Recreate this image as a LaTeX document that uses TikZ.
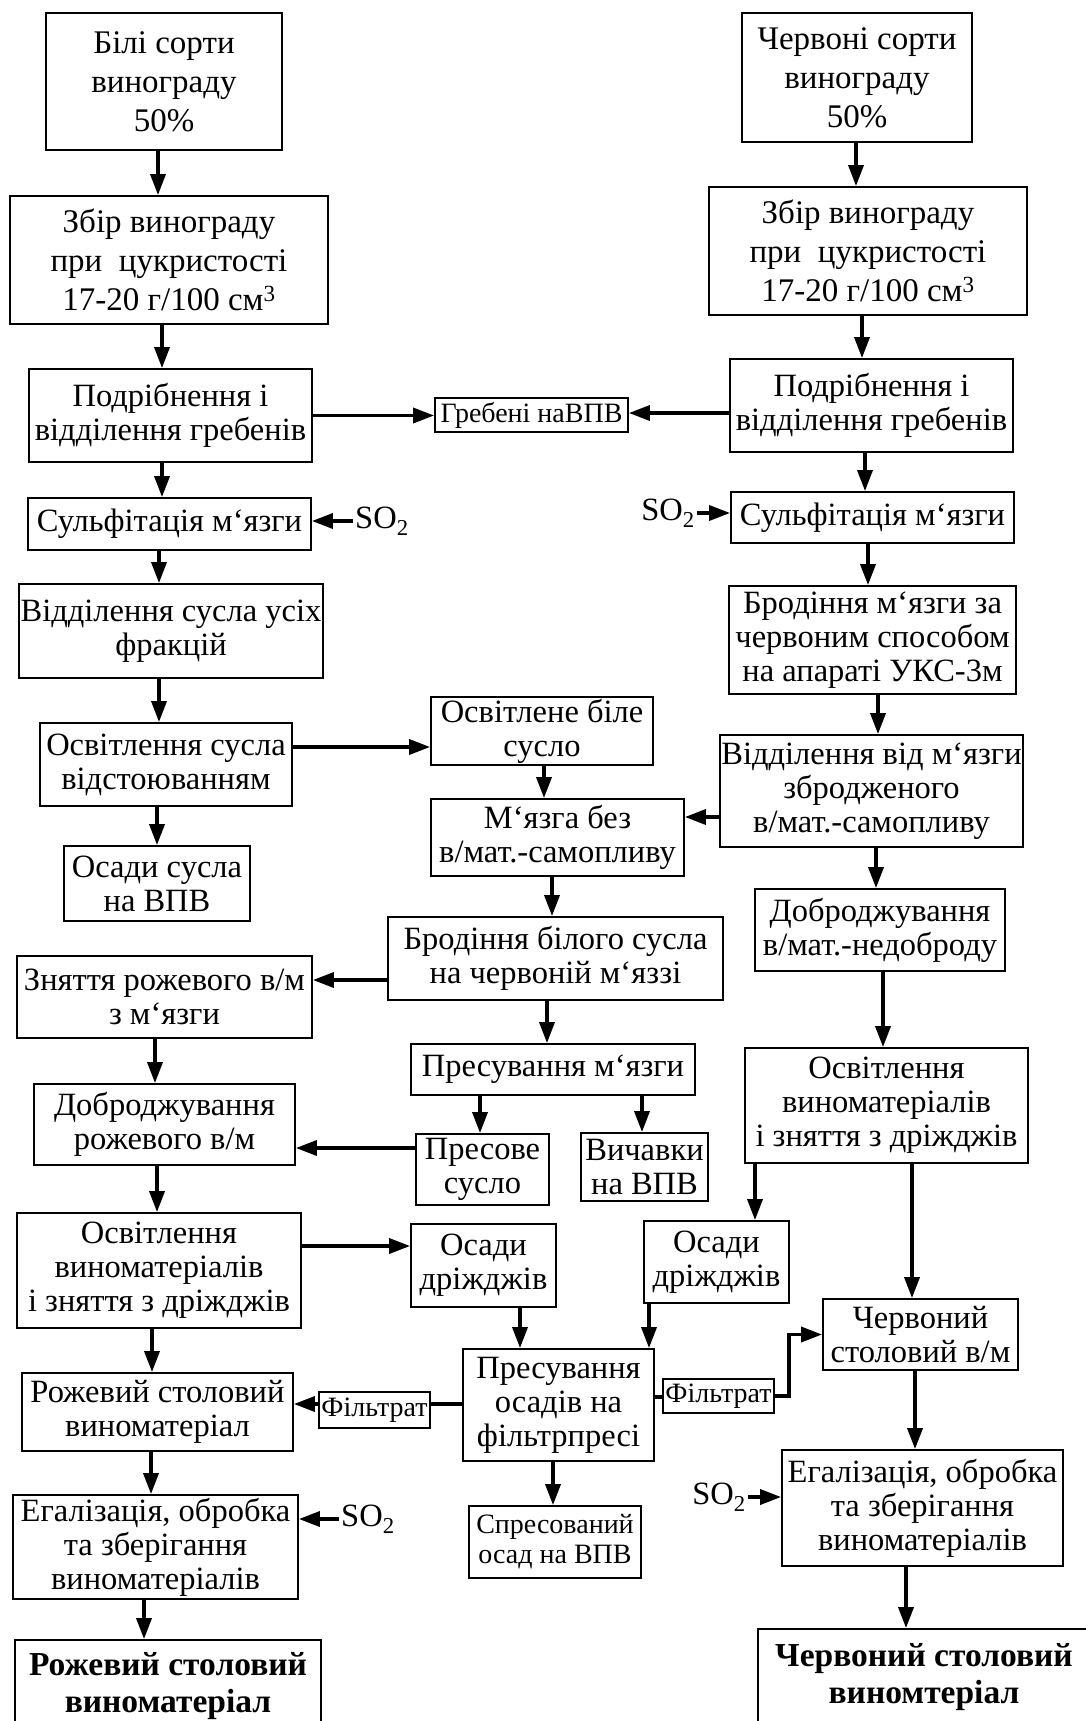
\documentclass[tikz,border=0pt]{standalone}
\usepackage{fontspec}
\setmainfont{Liberation Serif}
\usetikzlibrary{arrows.meta}
\tikzset{
  blk/.style={draw, line width=1.8pt, inner sep=1pt, align=center,
    font=\fontsize{32.5}{34}\selectfont},
  loose/.style={font=\fontsize{33}{39}\selectfont},
  small/.style={font=\fontsize{28}{30}\selectfont},
  bold/.style={font=\fontsize{33.5}{37}\selectfont\bfseries},
  lbl/.style={inner sep=2pt, font=\fontsize{32.5}{34}\selectfont},
  arr/.style={line width=3.5pt, -{Triangle[length=21pt,width=15pt]}},
  ln/.style={line width=3.5pt},
}
% box from corner (x1,y1) to (x2,y2), in pixels of the sheet
\newcommand\stage[7][]{\node[blk,#1,minimum width={(#5-#3)*1pt},minimum height={(#6-#4)*1pt}]
  (#2) at ({(#3+#5)/2},{(#4+#6)/2}) {#7};}

\begin{document}
\begin{tikzpicture}[x=1pt,y=-1pt]
  \useasboundingbox (0,0) rectangle (1086,1721);
  \fill[white] (0,0) rectangle (1086,1721);

  % left column
  \stage[loose]{b1}{46}{13}{282}{150}{Білі сорти\\винограду\\50\%}
  \stage[loose]{b2}{10}{196}{328}{324}{Збір винограду\\при~~цукристості\\17-20 г/100 см\textsuperscript{3}}
  \stage{b3}{29}{369}{312}{462}{Подрібнення і\\відділення гребенів}
  \stage{l4}{28}{498}{311}{550}{Сульфітація м‘язги}
  \stage{l5}{19}{584}{323}{678}{Відділення сусла усіх\\фракцій}
  \stage{l6}{40}{723}{292}{806}{Освітлення сусла\\відстоюванням}
  \stage{l7}{64}{846}{250}{921}{Осади сусла\\на ВПВ}
  \stage{l8}{17}{956}{312}{1038}{Зняття рожевого в/м\\з м‘язги}
  \stage{l9}{34}{1084}{295}{1165}{Доброджування\\рожевого в/м}
  \stage{l10}{17}{1213}{301}{1328}{Освітлення\\виноматеріалів\\і зняття з дріжджів}
  \stage{l11}{22}{1373}{293}{1451}{Рожевий столовий\\виноматеріал}
  \stage{l12}{13}{1495}{298}{1599}{Егалізація, обробка\\та зберігання\\виноматеріалів}
  \stage[bold]{l13}{15}{1640}{321}{1732}{Рожевий столовий\\виноматеріал}

  % middle
  \stage[small]{greb}{435}{398}{628}{432}{Гребені наВПВ}
  \stage{m1}{431}{697}{653}{765}{Освітлене біле\\сусло}
  \stage{m2}{431}{799}{684}{876}{М‘язга без\\в/мат.-самопливу}
  \stage{m3}{388}{917}{723}{1000}{Бродіння білого сусла\\на червоній м‘яззі}
  \stage{m4}{411}{1044}{695}{1095}{Пресування м‘язги}
  \stage{m5}{416}{1134}{549}{1205}{Пресове\\сусло}
  \stage{m6}{581}{1133}{708}{1201}{Вичавки\\на ВПВ}
  \stage{m7}{411}{1224}{556}{1307}{Осади\\дріжджів}
  \stage{m8}{644}{1221}{789}{1303}{Осади\\дріжджів}
  \stage{m9}{463}{1349}{654}{1461}{Пресування\\осадів на\\фільтрпресі}
  \stage[small]{fl}{319}{1392}{430}{1428}{Фільтрат}
  \stage[small]{fr}{663}{1379}{774}{1413}{Фільтрат}
  \stage[small]{m10}{469}{1506}{641}{1578}{Спресований\\осад на ВПВ}

  % right column
  \stage[loose]{r1}{742}{13}{972}{142}{Червоні сорти\\винограду\\50\%}
  \stage[loose]{r2}{709}{187}{1027}{315}{Збір винограду\\при~~цукристості\\17-20 г/100 см\textsuperscript{3}}
  \stage{r3}{730}{359}{1013}{452}{Подрібнення і\\відділення гребенів}
  \stage{r4}{731}{492}{1014}{543}{Сульфітація м‘язги}
  \stage{r5}{729}{586}{1016}{694}{Бродіння м‘язги за\\червоним способом\\на апараті УКС-3м}
  \stage{r6}{720}{735}{1023}{847}{Відділення від м‘язги\\збродженого\\в/мат.-самопливу}
  \stage{r7}{755}{889}{1005}{971}{Доброджування\\в/мат.-недоброду}
  \stage{r8}{745}{1048}{1028}{1163}{Освітлення\\виноматеріалів\\і зняття з дріжджів}
  \stage{r9}{823}{1299}{1018}{1370}{Червоний\\столовий в/м}
  \stage{r10}{782}{1450}{1063}{1566}{Егалізація, обробка\\та зберігання\\виноматеріалів}
  \stage[bold]{r11}{758}{1629}{1090}{1725}{Червоний столовий\\виномтеріал}

  \node[lbl,anchor=west] (so1) at (353,521) {SO\textsubscript{2}};
  \node[lbl,anchor=east] (so2) at (697,513) {SO\textsubscript{2}};
  \node[lbl,anchor=west] (so3) at (339,1519) {SO\textsubscript{2}};
  \node[lbl,anchor=east] (so4) at (748,1497) {SO\textsubscript{2}};

  % downward flow
  \draw[arr] (b1.south) ++(-6,0) coordinate (t) -- (t |- b2.north);
  \draw[arr] (b2.south) ++(-7,0) coordinate (t) -- (t |- b3.north);
  \draw[arr] (b3.south) ++(-8.5,0) coordinate (t) -- (t |- l4.north);
  \draw[arr] (l4.south) ++(-10.5,0) coordinate (t) -- (t |- l5.north);
  \draw[arr] (l5.south) ++(-12,0) coordinate (t) -- (t |- l6.north);
  \draw[arr] (l6.south) ++(-9,0) coordinate (t) -- (t |- l7.north);
  \draw[arr] (l8.south) ++(-9.5,0) coordinate (t) -- (t |- l9.north);
  \draw[arr] (l9.south) ++(-7.5,0) coordinate (t) -- (t |- l10.north);
  \draw[arr] (l10.south) ++(-7,0) coordinate (t) -- (t |- l11.north);
  \draw[arr] (l11.south) ++(-6.5,0) coordinate (t) -- (t |- l12.north);
  \draw[arr] (l12.south) ++(-11.5,0) coordinate (t) -- (t |- l13.north);
  \draw[arr] (m1.south) ++(2,0) coordinate (t) -- (t |- m2.north);
  \draw[arr] (m2.south) ++(-5.5,0) coordinate (t) -- (t |- m3.north);
  \draw[arr] (m3.south) ++(-8.5,0) coordinate (t) -- (t |- m4.north);
  \draw[arr] (m4.south) ++(-73,0) coordinate (t) -- (t |- m5.north);
  \draw[arr] (m4.south) ++(89,0) coordinate (t) -- (t |- m6.north);
  \draw[arr] (m7.south) ++(36.5,0) coordinate (t) -- (t |- m9.north);
  \draw[arr] (m8.south) ++(-67.5,0) coordinate (t) -- (t |- m9.north);
  \draw[arr] (m9.south) ++(-5.5,0) coordinate (t) -- (t |- m10.north);
  \draw[arr] (r1.south) ++(-1,0) coordinate (t) -- (t |- r2.north);
  \draw[arr] (r2.south) ++(-6,0) coordinate (t) -- (t |- r3.north);
  \draw[arr] (r3.south) ++(-6.5,0) coordinate (t) -- (t |- r4.north);
  \draw[arr] (r4.south) ++(-4.5,0) coordinate (t) -- (t |- r5.north);
  \draw[arr] (r5.south) ++(5.5,0) coordinate (t) -- (t |- r6.north);
  \draw[arr] (r6.south) ++(4.5,0) coordinate (t) -- (t |- r7.north);
  \draw[arr] (r7.south) ++(3,0) coordinate (t) -- (t |- r8.north);
  \draw[arr] (r8.south) ++(-131.5,0) coordinate (t) -- (t |- m8.north);
  \draw[arr] (r8.south) ++(25.5,0) coordinate (t) -- (t |- r9.north);
  \draw[arr] (r9.south) ++(-5.5,0) coordinate (t) -- (t |- r10.north);
  \draw[arr] (r10.south) ++(-16.5,0) coordinate (t) -- (t |- r11.north);

  % side flows
  \draw[arr] (b3.east) -- (b3.east -| greb.west);
  \draw[arr] (r3.west) ++(0,7.5) coordinate (t) -- (t -| greb.east);
  \draw[arr] (so1.west) -- (so1.west -| l4.east);
  \draw[arr] (so2.east) -- (so2.east -| r4.west);
  \draw[arr] (l6.east) ++(0,-17.5) coordinate (t) -- (t -| m1.west);
  \draw[arr] (r6.west) ++(0,26) coordinate (t) -- (t -| m2.east);
  \draw[arr] (m3.west) ++(0,21.5) coordinate (t) -- (t -| l8.east);
  \draw[arr] (m5.west) ++(0,-21.5) coordinate (t) -- (t -| l9.east);
  \draw[arr] (l10.east) ++(0,-24.5) coordinate (t) -- (t -| m7.west);
  \draw[ln] (m9.west) ++(0,-1) coordinate (t) -- (t -| fl.east);
  \draw[arr] (fl.west) ++(0,-6) coordinate (t) -- (t -| l11.east);
  \draw[ln] (m9.east) ++(0,-8) coordinate (t) -- (t -| fr.west);
  \draw[arr] (fr.east) -- ++(14,0) |- (r9.west);
  \draw[arr] (so3.west) -- (so3.west -| l12.east);
  \draw[arr] (so4.east) -- (so4.east -| r10.west);
\end{tikzpicture}
\end{document}
